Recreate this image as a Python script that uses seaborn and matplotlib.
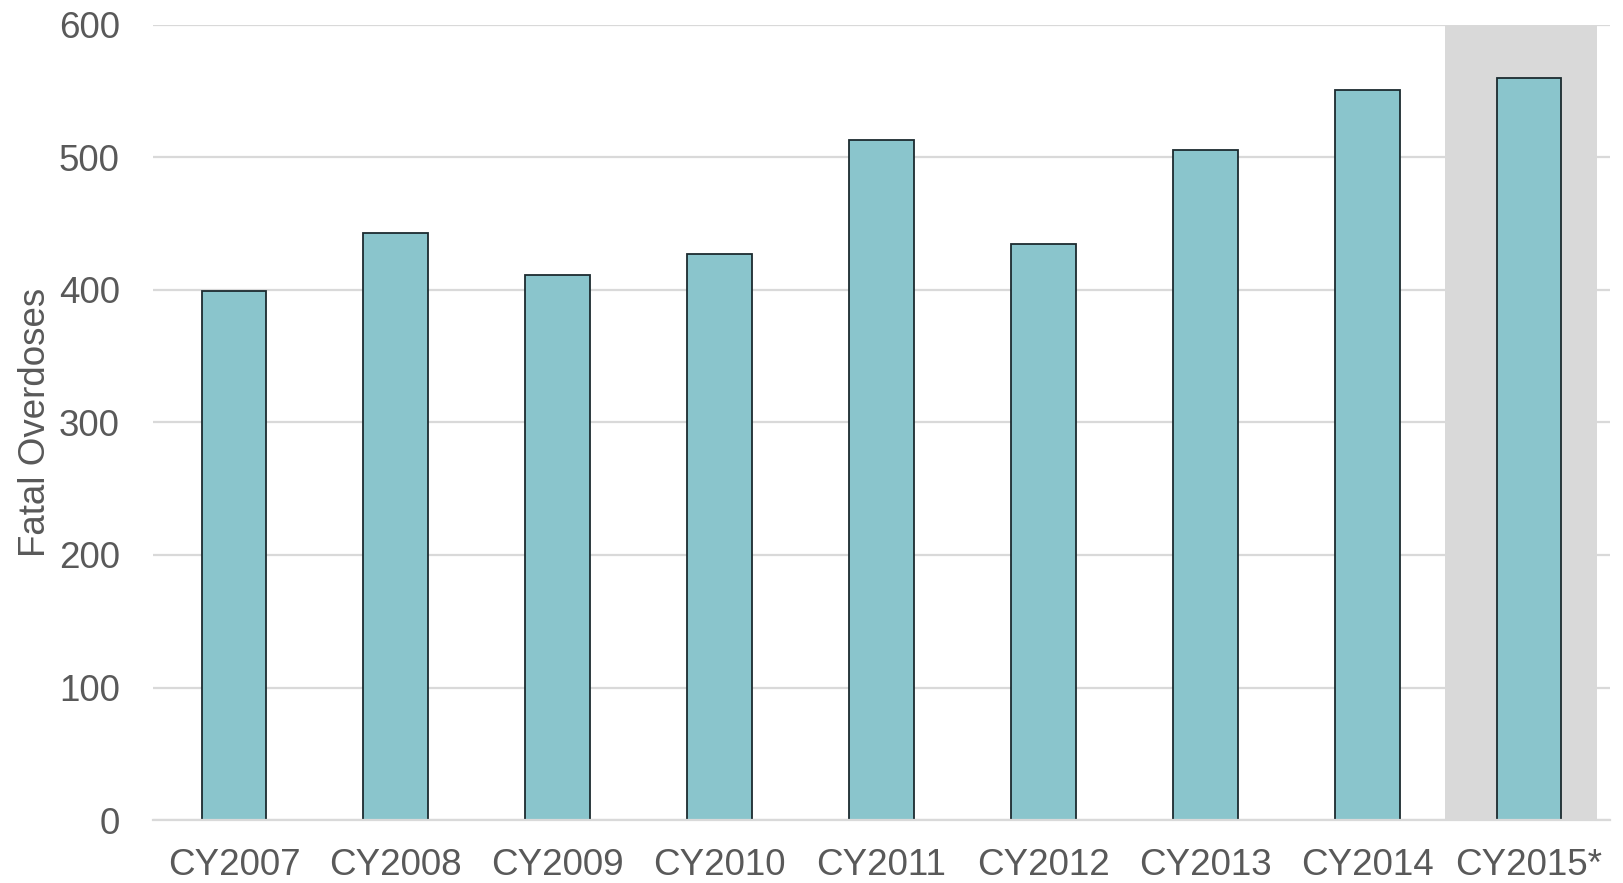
import matplotlib
matplotlib.use("Agg")
import matplotlib.pyplot as plt
import seaborn as sns
import pandas as pd

years = ["CY2007", "CY2008", "CY2009", "CY2010", "CY2011",
         "CY2012", "CY2013", "CY2014", "CY2015*"]
fatal_overdoses = [399, 443, 411, 427, 513, 435, 506, 551, 560]
y_ticks = [0, 100, 200, 300, 400, 500, 600]

df = pd.DataFrame({"year": years, "overdoses": fatal_overdoses})

sns.set_theme(style="white")
plt.rcParams["font.family"] = ["Liberation Sans", "DejaVu Sans"]

text_color = "#595959"
grid_color = "#D9D9D9"

fig = plt.figure(figsize=(16.24, 8.83), dpi=100)
ax = fig.add_axes([153 / 1624, 1 - 820 / 883, (1610 - 153) / 1624, (820 - 25) / 883])

# shaded band marking the provisional year
ax.axvspan(7.48, 8.42, ymin=0, ymax=1.004, color=grid_color, zorder=0, lw=0)

sns.barplot(data=df, x="year", y="overdoses", ax=ax, width=0.4,
            color="#8AC5CC", saturation=1, edgecolor="#1C2B2F",
            linewidth=1.3, zorder=2)

ax.set_ylim(0, 600)
ax.set_xlim(-0.5, 8.5)
ax.set_yticks(y_ticks)
ax.yaxis.grid(True, color=grid_color, linewidth=1.6, zorder=1)
ax.set_axisbelow(True)
for s in ["top", "right", "left"]:
    ax.spines[s].set_visible(False)
ax.spines["bottom"].set_color(grid_color)
ax.spines["bottom"].set_linewidth(1.6)

ax.tick_params(axis="both", length=0, labelsize=26.5, labelcolor=text_color)
ax.tick_params(axis="y", pad=24)
ax.tick_params(axis="x", pad=20)
ax.set_xlabel("")
ax.set_ylabel("Fatal Overdoses", fontsize=26.5, color=text_color, labelpad=4)

fig.savefig("out.png", dpi=100)
